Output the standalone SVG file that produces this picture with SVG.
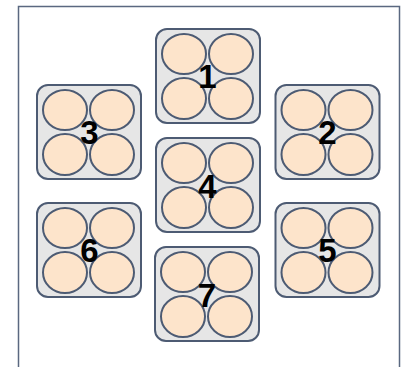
<svg xmlns="http://www.w3.org/2000/svg" width="406" height="367" viewBox="0 0 406 367">
<defs>
<style>
.frame{fill:#ffffff;stroke:#5a6880;stroke-width:1.5}
.box{fill:#e6e6e6;stroke:#4d5b73;stroke-width:2}
.c{fill:#fde4cb;stroke:#4d5b73;stroke-width:2}
.lbl{font-family:"Liberation Sans",Arial,sans-serif;font-weight:bold;font-size:33px;fill:#000;text-anchor:middle}
</style>
<g id="tray">
<rect class="box" x="0" y="0" width="104" height="94" rx="11" ry="11"/>
<ellipse class="c" cx="28" cy="25" rx="22" ry="20"/>
<ellipse class="c" cx="75" cy="25" rx="22" ry="20"/>
<ellipse class="c" cx="28" cy="69.5" rx="22" ry="20.5"/>
<ellipse class="c" cx="75" cy="69.5" rx="22" ry="20.5"/>
</g>
</defs>
<rect class="frame" x="18.5" y="6.5" width="381" height="380"/>
<g id="connectors"></g>
<g id="node1"><use href="#tray" x="156" y="29"/><text class="lbl" x="207.5" y="88">1</text></g>
<g id="node2"><use href="#tray" x="275.5" y="85"/><text class="lbl" x="327.5" y="144">2</text></g>
<g id="node3"><use href="#tray" x="37" y="85"/><text class="lbl" x="89.5" y="144">3</text></g>
<g id="node4"><use href="#tray" x="156" y="138"/><text class="lbl" x="207.5" y="198">4</text></g>
<g id="node5"><use href="#tray" x="275.5" y="203"/><text class="lbl" x="327.5" y="262">5</text></g>
<g id="node6"><use href="#tray" x="37" y="203"/><text class="lbl" x="89.5" y="262">6</text></g>
<g id="node7"><use href="#tray" x="155" y="247"/><text class="lbl" x="207" y="307">7</text></g>
</svg>
